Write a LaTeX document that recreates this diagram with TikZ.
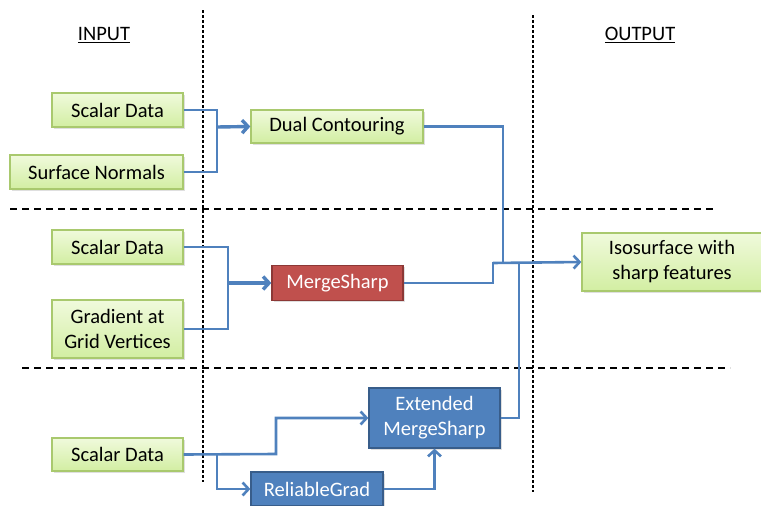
\documentclass[tikz,border=0pt]{standalone}
\usepackage{fontspec}
\setmainfont{Carlito}
\usetikzlibrary{arrows.meta,shadows}
\definecolor{lnblue}{HTML}{4F81BD}
\definecolor{gtop}{HTML}{F0FADC}
\definecolor{gbot}{HTML}{D2EEA2}
\definecolor{gbord}{HTML}{A9C96E}
\definecolor{rfill}{HTML}{C0504D}
\definecolor{rbord}{HTML}{8C3836}
\definecolor{bfill}{HTML}{4F81BD}
\definecolor{bbord}{HTML}{385D8A}
\tikzset{
  box/.style={draw, line width=1.3pt, rectangle, align=center, font=\fontsize{20.5}{25}\selectfont, inner sep=0pt,
    drop shadow={shadow xshift=1.5pt, shadow yshift=-1.5pt, opacity=0.25}},
  gbox/.style={box, draw=gbord, top color=gtop, bottom color=gbot, text=black},
  rbox/.style={box, draw=rbord, fill=rfill, text=white},
  bbox/.style={box, draw=bbord, fill=bfill, text=white},
  conn/.style={draw=lnblue, line width=2.6pt},
  arr/.style={conn, -{Straight Barb[length=6pt,width=13pt]}},
  jarr/.style={arr, line width=3.4pt},
  hsep/.style={black, line width=1.4pt, dash pattern=on 7pt off 5pt},
  vsep/.style={black, line width=1.4pt, dash pattern=on 3pt off 2pt},
  head/.style={font=\fontsize{20.5}{25}\selectfont}
}
\begin{document}
\begin{tikzpicture}[x=1pt,y=-1pt]
\useasboundingbox (0,0) rectangle (761,506);
% separators
\draw[vsep] (203,10) -- (203,482);
\draw[vsep] (533,15) -- (533,492);
\draw[hsep] (10,209) -- (715,209);
\draw[hsep] (22,368) -- (730,368);
% headings
\node[head] (inp) at (104,35) {\underline{INPUT}};
\node[head] (outp) at (640,35) {\underline{OUTPUT}};
% boxes
\node[gbox, minimum width=131, minimum height=34] (sd1) at (117.5,110) {Scalar Data};
\node[gbox, minimum width=173, minimum height=34] (sn) at (96.5,172) {Surface Normals};
\node[gbox, minimum width=172, minimum height=33] (dc) at (337,126.5) {Dual Contouring};
\node[gbox, minimum width=131, minimum height=34] (sd2) at (117.5,247) {Scalar Data};
\node[gbox, minimum width=131, minimum height=58] (gr) at (117.5,329) {Gradient at\\Grid Vertices};
\node[rbox, minimum width=131, minimum height=35] (ms) at (337.5,283) {MergeSharp};
\node[gbox, minimum width=180, minimum height=58] (iso) at (672,262) {Isosurface with\\sharp features};
\node[gbox, minimum width=131, minimum height=33] (sd3) at (117.5,454.5) {Scalar Data};
\node[bbox, minimum width=131, minimum height=60] (ems) at (434.5,418) {Extended\\MergeSharp};
\node[bbox, minimum width=132, minimum height=34] (rg) at (317,489) {ReliableGrad};
% junction coordinates
\coordinate (j1) at (217,127);
\coordinate (j2) at (228,283);
\coordinate (j3) at (503,263);
\coordinate (j4) at (217,454);
% connectors row 1
\draw[conn] (sd1.east) -| (j1);
\draw[conn] (sn.east) -| (j1);
\draw[jarr] (j1) -- (dc.west);
% row 2
\draw[conn] (sd2.east) -| (j2);
\draw[conn] (gr.east) -| (j2);
\draw[jarr] (j2) -- (ms.west);
% to output
\draw[conn] (dc.east) -| (j3);
\draw[conn] (ms.east) -- (493,283) -- (493,263) -- (j3);
\draw[conn] (ems.east) -- (519,418) -- (519,263);
\draw[arr] (493,263) -- (iso.west);
% row 3
\draw[arr] (sd3.east) -- (276,454) -- (276,418) -- (ems.west);
\draw[arr] (j4) |- (rg.west);
\draw[arr] (rg.east) -| (ems.south);
\end{tikzpicture}
\end{document}
